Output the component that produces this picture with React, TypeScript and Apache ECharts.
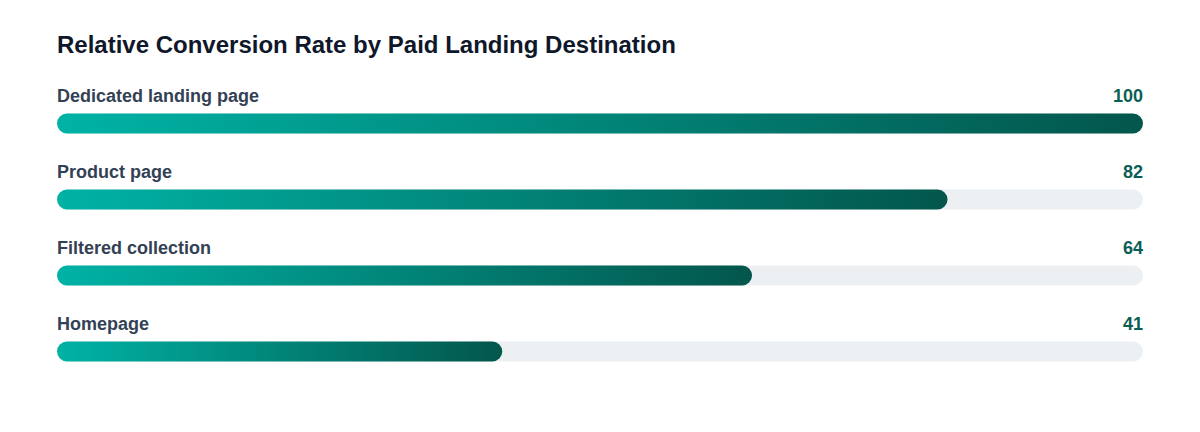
import { useEffect, useRef } from 'react'
import * as echarts from 'echarts'

// Relative conversion rate by paid landing destination — progress-style bars

const categories = [
  'Dedicated landing page',
  'Product page',
  'Filtered collection',
  'Homepage',
]
const values = [100, 82, 64, 41]
const trackMax = [100, 100, 100, 100]

const FONT = '"Liberation Sans", Arial, Helvetica, sans-serif'
const TRACK_COLOR = '#edf0f3'
const LABEL_COLOR = '#334155'
const VALUE_COLOR = '#0b5e54'

export default function App() {
  const ref = useRef<HTMLDivElement>(null)

  useEffect(() => {
    if (!ref.current) return
    const chart = echarts.init(ref.current, undefined, { renderer: 'svg' })

    chart.setOption({
      animation: false,
      backgroundColor: '#ffffff',
      title: {
        text: 'Relative Conversion Rate by Paid Landing Destination',
        left: 52,
        top: 27,
        textStyle: {
          color: '#0f172a',
          fontSize: 24,
          fontWeight: 'bold',
          fontFamily: FONT,
        },
      },
      grid: { left: 57, right: 57, top: 85.5, bottom: 42.5, containLabel: false },
      xAxis: {
        type: 'value',
        min: 0,
        max: 100,
        show: false,
      },
      yAxis: {
        type: 'category',
        data: categories,
        inverse: true,
        show: false,
      },
      series: [
        {
          // grey track with the value at its right end
          type: 'bar',
          data: trackMax,
          barWidth: 20,
          silent: true,
          itemStyle: { color: TRACK_COLOR, borderRadius: 10 },
          label: {
            show: true,
            position: ['100%', -18],
            align: 'right',
            verticalAlign: 'middle',
            formatter: (p: any) => String(values[p.dataIndex]),
            color: VALUE_COLOR,
            fontSize: 18,
            fontWeight: 'bold',
            fontFamily: FONT,
          },
          z: 1,
        },
        {
          type: 'bar',
          data: values,
          barWidth: 20,
          barGap: '-100%',
          itemStyle: {
            borderRadius: 10,
            color: new echarts.graphic.LinearGradient(0, 0, 1, 0, [
              { offset: 0, color: '#00b3a5' },
              { offset: 1, color: '#03564c' },
            ]),
          },
          label: {
            show: true,
            position: [0, -18],
            align: 'left',
            verticalAlign: 'middle',
            formatter: (p: any) => p.name,
            color: LABEL_COLOR,
            fontSize: 18,
            fontWeight: 'bold',
            fontFamily: FONT,
          },
          z: 2,
        },
      ],
    })

    return () => chart.dispose()
  }, [])

  return (
    <div
      ref={ref}
      style={{ position: 'absolute', left: 0, top: 0, width: 1200, height: 432 }}
    />
  )
}
